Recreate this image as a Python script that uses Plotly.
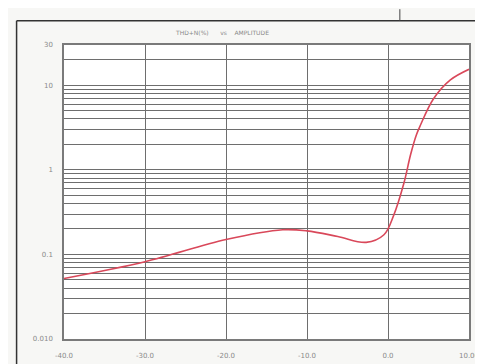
import plotly.graph_objects as go

# Data (amplitude vs THD+N %)
amplitude = [-40, -30, -20, -13, -10, -6.2, -2.7, -0.5, 0.7, 1.95, 2.8, 3.5, 4.0, 5.6, 7.7, 10]
thdn_pct = [0.052, 0.082, 0.15, 0.196, 0.19, 0.163, 0.139, 0.171, 0.29, 0.69, 1.53, 2.59, 3.37, 6.9, 11.6, 15.5]

x_tickvals = [-40, -30, -20, -10, 0, 10]
x_ticktext = ["-40.0", "-30.0", "-20.0", "-10.0", "0.0", "10.00"]
y_tickvals = [0.01, 0.1, 1, 10, 30]
y_ticktext = ["0.010", "0.1", "1", "10", "30"]
y_minor = [m * 10 ** k for k in (-2, -1, 0) for m in range(2, 10)] + [20]

W, H = 483, 364
ml, mr, mt, mb = 56, 17, 37, 23
pw, ph = W - ml - mr, H - mt - mb

def px(x):
    return (x - ml) / pw

def py(y):
    return (H - mb - y) / ph

fig = go.Figure()
fig.add_trace(go.Scatter(
    x=amplitude, y=thdn_pct, mode="lines",
    line=dict(color="#d9485a", width=1.6, shape="spline", smoothing=1.0),
    showlegend=False, hoverinfo="skip",
))

grid = "#6e6e6e"
fig.update_layout(
    width=W, height=H,
    margin=dict(l=ml, r=mr, t=mt, b=mb),
    paper_bgcolor="#f7f7f5", plot_bgcolor="#ffffff",
    font=dict(family="DejaVu Sans", size=7, color="#8a8a8a"),
    showlegend=False,
    xaxis=dict(
        range=[-40, 10], tickvals=x_tickvals, ticktext=x_ticktext,
        showgrid=True, gridcolor=grid, gridwidth=1,
        zeroline=False, showline=True, linecolor="#7a7a7a", linewidth=1.5, mirror=True,
        ticks="", ticklabelstandoff=9,
    ),
    yaxis=dict(
        type="log", range=[-2, 1.4771], tickvals=y_tickvals, ticktext=y_ticktext,
        showgrid=True, gridcolor=grid, gridwidth=1,
        minor=dict(tickvals=y_minor, showgrid=True, gridcolor=grid, gridwidth=1, ticks=""),
        zeroline=False, showline=True, linecolor="#7a7a7a", linewidth=1.5, mirror=True,
        ticks="", ticklabelstandoff=8,
    ),
    annotations=[dict(
        text="THD+N(%)&nbsp;&nbsp;&nbsp;&nbsp;&nbsp;&nbsp;vs&nbsp;&nbsp;&nbsp;&nbsp;AMPLITUDE",
        xref="paper", yref="paper", x=px(216), y=py(24),
        showarrow=False, font=dict(size=6, color="#8a8a8a"),
        xanchor="center", yanchor="middle",
    )],
    shapes=[
        dict(type="line", xref="paper", yref="paper", x0=px(8), y0=py(12), x1=px(490), y1=py(12),
             line=dict(color="#333333", width=1.5)),
        dict(type="line", xref="paper", yref="paper", x0=px(8), y0=py(12), x1=px(8), y1=py(370),
             line=dict(color="#333333", width=1.5)),
        dict(type="line", xref="paper", yref="paper", x0=px(396), y0=py(0), x1=px(396), y1=py(12),
             line=dict(color="#444444", width=1)),
    ],
)

fig.write_html("out.html")
